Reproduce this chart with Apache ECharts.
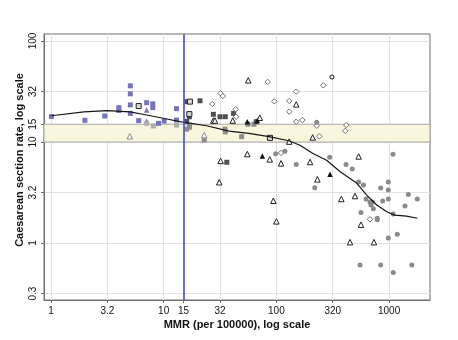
<!DOCTYPE html>
<html>
<head>
<meta charset="utf-8">
<style>
  html, body { margin: 0; padding: 0; background: #ffffff; }
  #chart { width: 458px; height: 340px; }
</style>
<script src="https://cdn.jsdelivr.net/npm/echarts@6.0.0/dist/echarts.min.js"></script>
</head>
<body>
<div id="chart"></div>
<script>
// Axis ticks (values on log scale and their labels)
const xTickValues = [1, 3.162, 10, 15, 31.62, 100, 316.2, 1000];
const xTickLabels = ["1", "3.2", "10", "15", "32", "100", "320", "1000"];
const yTickValues = [0.3162, 1, 3.162, 10, 15, 31.62, 100];
const yTickLabels = ["0.3", "1", "3.2", "10", "15", "32", "100"];

// Reference band and threshold
const bandRange = [10, 15];
const mmrThreshold = 15;

// Smoothed (lowess) curve
const lowess = [[1.01,18.2],[1.96,19.9],[3.14,20.5],[5.02,19.9],[7.07,18.5],[9.9,17.2],[13.9,15.9],[24,14.5],[38,12.8],[57,12.2],[86,11.3],[129,10.3],[162,9.3],[211,7.7],[279,6.6],[366,5.1],[518,3.9],[630,3.0],[777,2.38],[955,2.04],[1118,1.89],[1430,1.85],[1785,1.76]];

// Point groups
const blueSquares = [[1.01,17.9],[2.0,16.4],[3.0,18.1],[4.0,21.9],[4.0,20.5],[5.06,36],[5.06,30],[5.06,23.3],[5.06,19.2],[6.0,16.3],[7.06,24.5],[8.0,23.9],[8.0,21.9],[9.0,15.3],[10.1,16.1],[13,21.4],[13,16.5]];
const blueTriangles = [[7.06,20.7],[7.06,16.1]];
const lightSquares = [[8.1,14.4],[7.06,15.3],[13,14.7]];
const graySquares = [[16.9,14.7],[16.9,14.0],[16,13.4],[22.9,10.5],[49.2,11.3],[63.3,15],[56,15],[35,13.4],[35.2,12.6]];
const darkSquares = [[16,16],[16,25.1],[21,25.6],[27.6,18.8],[41.7,19.2],[31.6,17.8],[35.2,17.8],[66.3,15.9],[36.3,6.3],[16.9,17.8]];
const hollowSquares = [[6.0,22.7],[17.1,25.1],[16.9,18.9],[87.7,11]];
const diamonds = [[27,23.8],[32,30.3],[33.5,28.5],[43.5,21.1],[44,17.8],[83.7,39.3],[261,36.4],[150,31.5],[95.8,25.3],[130,25.5],[130,20],[150,15.9],[170,16.5],[228,14.5],[417,14.7],[409,12.9],[240,11.4],[110,7.8],[677,1.72]];
const hollowCircles = [[311,44]];
const lightTriangles = [[5.0,11.4],[22.9,11.7]];
const hollowTriangles = [[27.6,16.3],[28.5,16.3],[56.3,40.8],[150,23.6],[41,16.3],[71.3,17.4],[210,11.1],[130,10.1],[55.2,7.6],[87.3,6.74],[110,6.15],[199,6.34],[537,7.2],[32,6.5],[31.1,4.0],[94,2.62],[100,1.64],[231,4.27],[377,2.73],[498,2.92],[563,1.52],[450,1.02],[734,1.02]];
const filledTriangles = [[55.2,15.9],[67.7,16.3],[75,7.27],[299,4.79]];
const grayCircles = [[228,15.7],[98.6,7.65],[119,8.1],[150,6.0],[297,7.06],[415,6.0],[471,5.4],[1083,7.55],[219,3.53],[537,4.02],[592,3.75],[624,2.73],[842,3.5],[984,4.02],[984,3.35],[984,2.73],[877,2.6],[1482,3.03],[1778,2.73],[1384,2.32],[677,2.55],[711,2.55],[691,2.38],[725,2.19],[563,2.01],[785,1.76],[785,1.7],[1089,1.94],[984,1.12],[1183,1.22],[552,0.605],[842,0.605],[1089,0.51],[1590,0.605]];

function labelFor(values, labels) {
  return function (v) {
    let best = 0, bd = Infinity;
    for (let i = 0; i < values.length; i++) {
      const d = Math.abs(Math.log10(v) - Math.log10(values[i]));
      if (d < bd) { bd = d; best = i; }
    }
    return labels[best];
  };
}

function scatter(name, data, symbol, size, color, border, bw) {
  return {
    name: name, type: 'scatter', data: data, symbol: symbol, symbolSize: size,
    itemStyle: { color: color, borderColor: border || color, borderWidth: bw || 0, opacity: 1 },
    z: 3, silent: true
  };
}

const chart = echarts.init(document.getElementById('chart'), null, { renderer: 'canvas' });
const font = 'Liberation Sans, Arial, Helvetica, sans-serif';

chart.setOption({
  animation: false,
  backgroundColor: '#ffffff',
  grid: { left: 44, right: 28, top: 34, bottom: 40, show: true, borderColor: '#707070', borderWidth: 1, backgroundColor: 'transparent' },
  xAxis: {
    type: 'log', logBase: 10, min: 0.867, max: 2307,
    name: 'MMR (per 100000), log scale', nameLocation: 'middle', nameGap: 19, nameMoveOverlap: false,
    nameTextStyle: { fontFamily: font, fontSize: 11, fontWeight: 'bold', color: '#111' },
    axisLine: { show: true, lineStyle: { color: '#707070', width: 1 } },
    axisTick: { show: true, length: 3, inside: false, lineStyle: { color: '#707070' }, customValues: xTickValues },
    axisLabel: { customValues: xTickValues, formatter: labelFor(xTickValues, xTickLabels), fontFamily: font, fontSize: 10, color: '#111', margin: 6 },
    splitLine: { show: true, lineStyle: { color: '#e2e2e2', width: 1 } },
    minorTick: { show: false }, minorSplitLine: { show: false }
  },
  yAxis: {
    type: 'log', logBase: 10, min: 0.273, max: 117.3,
    name: 'Caesarean section rate, log scale', nameLocation: 'middle', nameGap: 19, nameRotate: 90, nameMoveOverlap: false,
    nameTextStyle: { fontFamily: font, fontSize: 11, fontWeight: 'bold', color: '#111', padding: [0, 0, 0, 14] },
    axisLine: { show: true, lineStyle: { color: '#707070', width: 1 } },
    axisTick: { show: true, length: 3, inside: false, lineStyle: { color: '#707070' }, customValues: yTickValues },
    axisLabel: { customValues: yTickValues, formatter: labelFor(yTickValues, yTickLabels), rotate: 90, fontFamily: font, fontSize: 10, color: '#111', margin: 6 },
    splitLine: { show: true, lineStyle: { color: '#e2e2e2', width: 1 } },
    minorTick: { show: false }, minorSplitLine: { show: false }
  },
  series: [
    {
      name: 'lowess', type: 'line', data: lowess, symbol: 'none', smooth: false,
      lineStyle: { color: '#151515', width: 1.2 }, z: 4, silent: true,
      markArea: {
        silent: true,
        itemStyle: { color: '#f8f6dd', borderColor: '#a8a8a8', borderWidth: 1 },
        data: [[{ yAxis: bandRange[0] }, { yAxis: bandRange[1] }]]
      },
      markLine: {
        silent: true, symbol: 'none', label: { show: false },
        lineStyle: { color: '#4a4ae0', width: 1.6, type: 'solid' },
        data: [{ xAxis: mmrThreshold }]
      }
    },
    scatter('blueSquares', blueSquares, 'rect', 5, '#7575bb'),
    scatter('blueTriangles', blueTriangles, 'triangle', 5.5, '#7575bb'),
    scatter('lightSquares', lightSquares, 'rect', 5, '#aeaeae'),
    scatter('graySquares', graySquares, 'rect', 5, '#8c8c8c'),
    scatter('darkSquares', darkSquares, 'rect', 5, '#505050'),
    scatter('hollowSquares', hollowSquares, 'rect', 5, '#d8d8d8', '#222', 1),
    scatter('diamonds', diamonds, 'diamond', 5.5, '#ffffff', '#707070', 1),
    scatter('hollowCircles', hollowCircles, 'circle', 4, '#ffffff', '#111', 1),
    scatter('lightTriangles', lightTriangles, 'triangle', 5.5, '#ffffff', '#8a8a8a', 1),
    scatter('hollowTriangles', hollowTriangles, 'triangle', 5.5, '#ffffff', '#222', 1),
    scatter('filledTriangles', filledTriangles, 'triangle', 5.5, '#111', '#111', 0),
    scatter('grayCircles', grayCircles, 'circle', 5, '#8a8a8a')
  ]
});
</script>
</body>
</html>
